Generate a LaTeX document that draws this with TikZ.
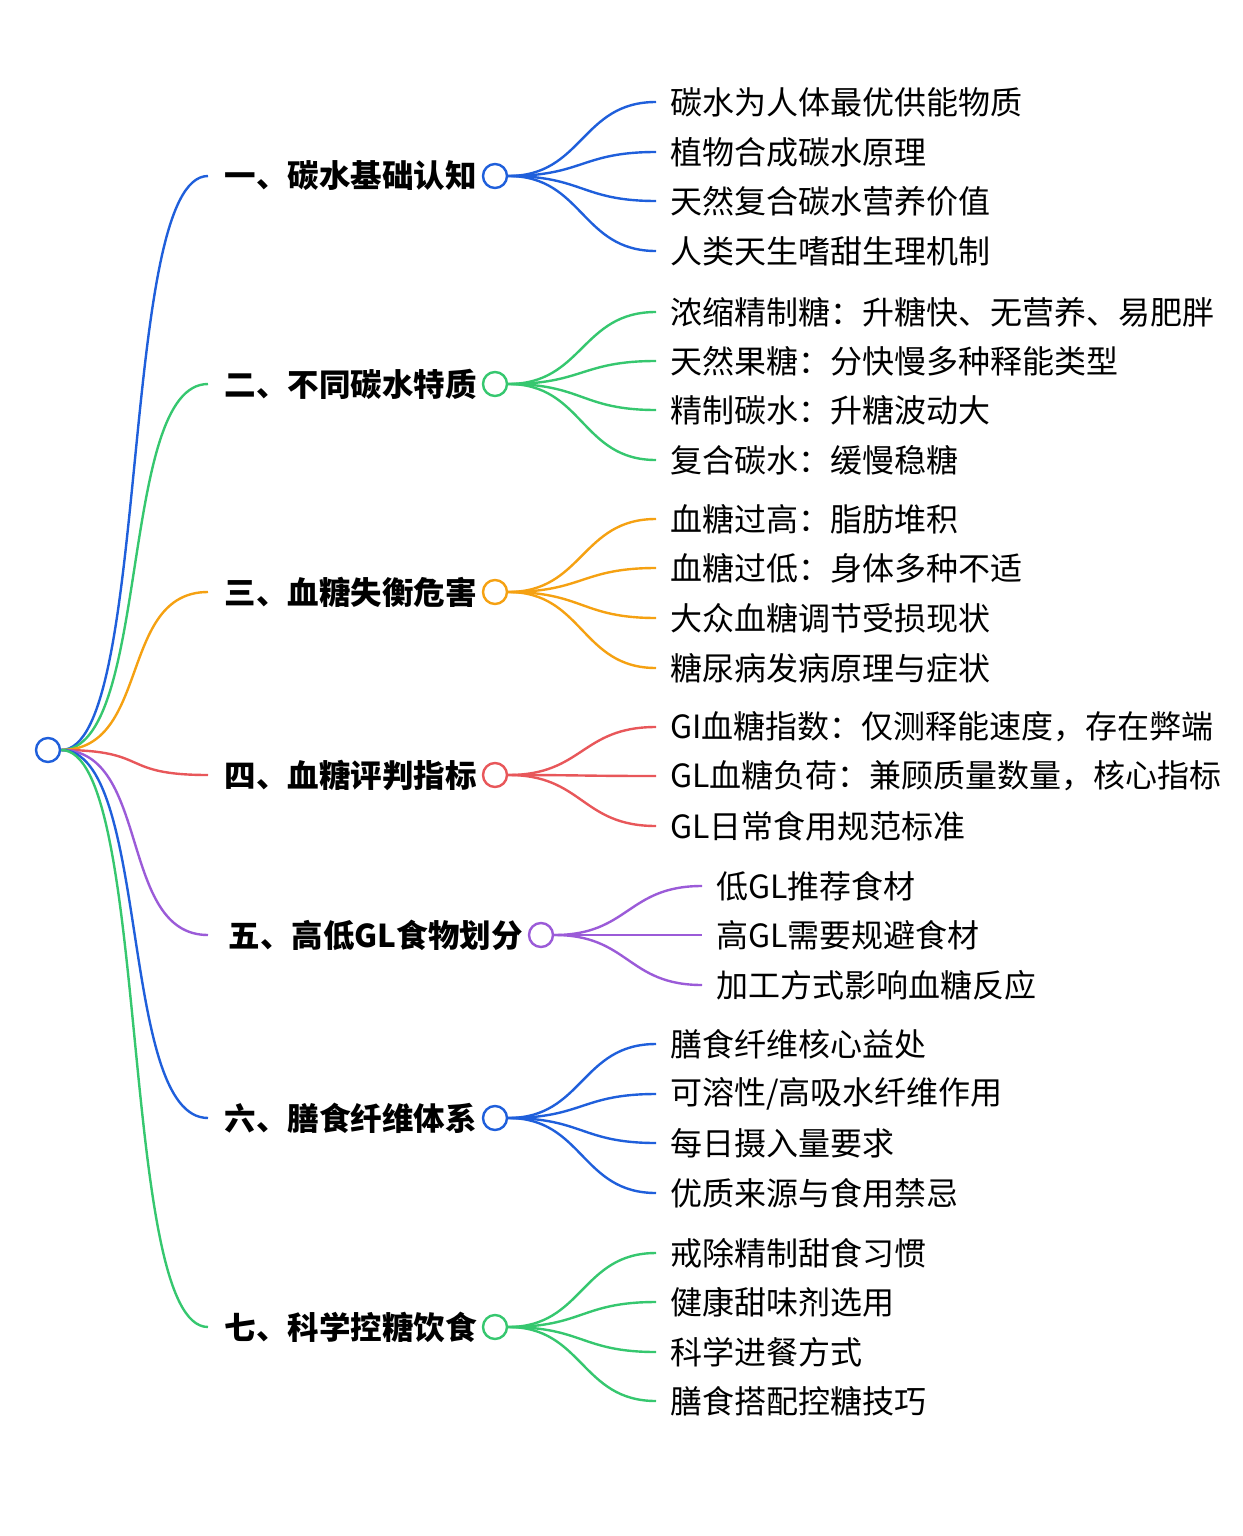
\documentclass[tikz,border=0pt]{standalone}
\usepackage{fontspec}
\setmainfont{Noto Sans CJK SC}
\definecolor{cblue}{HTML}{1F5FDB}
\definecolor{cgreen}{HTML}{36C76F}
\definecolor{corange}{HTML}{F5A112}
\definecolor{cred}{HTML}{E8575A}
\definecolor{cpurple}{HTML}{9B5BD8}
\tikzset{
  dot/.style = {circle, draw, fill=white, line width=2.4pt, minimum size=24pt, inner sep=0pt},
  head/.style = {anchor=east, font=\fontsize{31.5}{36}\selectfont\bfseries, inner sep=0pt},
  leaf/.style = {anchor=west, font=\fontsize{32}{38}\selectfont, inner xsep=14pt, inner ysep=0pt},
  link/.style = {line width=2.4pt}
}
\begin{document}
\begin{tikzpicture}[x=1pt,y=-1pt]
\useasboundingbox (0,0) rectangle (1242,1536);

\node[dot,draw=cblue] (root) at (48,750) {};

% branches
\foreach \i/\y/\cx/\col/\txt in {
  1/176/495/cblue/一、碳水基础认知,
  2/384/495/cgreen/二、不同碳水特质,
  3/592/495/corange/三、血糖失衡危害,
  4/775/495/cred/四、血糖评判指标,
  5/935/541/cpurple/五、高低GL食物划分,
  6/1118/495/cblue/六、膳食纤维体系,
  7/1327/495/cgreen/七、科学控糖饮食}{
  \coordinate (s\i) at (208,\y);
  \draw[link,\col] (root.east) .. controls +(90,0) and +(-90,0) .. (s\i);
  \node[head] (h\i) at (\cx-18,\y) {\txt};
  \node[dot,draw=\col] (b\i) at (\cx,\y) {};
}

% children
\foreach \j/\y/\txt in {1/102/碳水为人体最优供能物质, 2/152/植物合成碳水原理,
  3/201/天然复合碳水营养价值, 4/251/人类天生嗜甜生理机制}{
  \node[leaf] (c1\j) at (656,\y) {\txt};
  \draw[link,cblue] (b1.east) .. controls +(75,0) and +(-75,0) .. (c1\j.west);
}
\foreach \j/\y/\txt in {1/312/浓缩精制糖：升糖快、无营养、易肥胖, 2/361/天然果糖：分快慢多种释能类型,
  3/410/精制碳水：升糖波动大, 4/460/复合碳水：缓慢稳糖}{
  \node[leaf] (c2\j) at (656,\y) {\txt};
  \draw[link,cgreen] (b2.east) .. controls +(75,0) and +(-75,0) .. (c2\j.west);
}
\foreach \j/\y/\txt in {1/519/血糖过高：脂肪堆积, 2/568/血糖过低：身体多种不适,
  3/618/大众血糖调节受损现状, 4/668/糖尿病发病原理与症状}{
  \node[leaf] (c3\j) at (656,\y) {\txt};
  \draw[link,corange] (b3.east) .. controls +(75,0) and +(-75,0) .. (c3\j.west);
}
\foreach \j/\y/\txt in {1/727/GI血糖指数：仅测释能速度，存在弊端,
  2/776/GL血糖负荷：兼顾质量数量，核心指标, 3/826/GL日常食用规范标准}{
  \node[leaf] (c4\j) at (656,\y) {\txt};
  \draw[link,cred] (b4.east) .. controls +(75,0) and +(-75,0) .. (c4\j.west);
}
\foreach \j/\y/\txt in {1/886/低GL推荐食材, 2/935/高GL需要规避食材, 3/985/加工方式影响血糖反应}{
  \node[leaf] (c5\j) at (702,\y) {\txt};
  \draw[link,cpurple] (b5.east) .. controls +(75,0) and +(-75,0) .. (c5\j.west);
}
\foreach \j/\y/\txt in {1/1044/膳食纤维核心益处, 2/1094/{可溶性/高吸水纤维作用},
  3/1143/每日摄入量要求, 4/1193/优质来源与食用禁忌}{
  \node[leaf] (c6\j) at (656,\y) {\txt};
  \draw[link,cblue] (b6.east) .. controls +(75,0) and +(-75,0) .. (c6\j.west);
}
\foreach \j/\y/\txt in {1/1253/戒除精制甜食习惯, 2/1302/健康甜味剂选用,
  3/1352/科学进餐方式, 4/1401/膳食搭配控糖技巧}{
  \node[leaf] (c7\j) at (656,\y) {\txt};
  \draw[link,cgreen] (b7.east) .. controls +(75,0) and +(-75,0) .. (c7\j.west);
}
\end{tikzpicture}
\end{document}
